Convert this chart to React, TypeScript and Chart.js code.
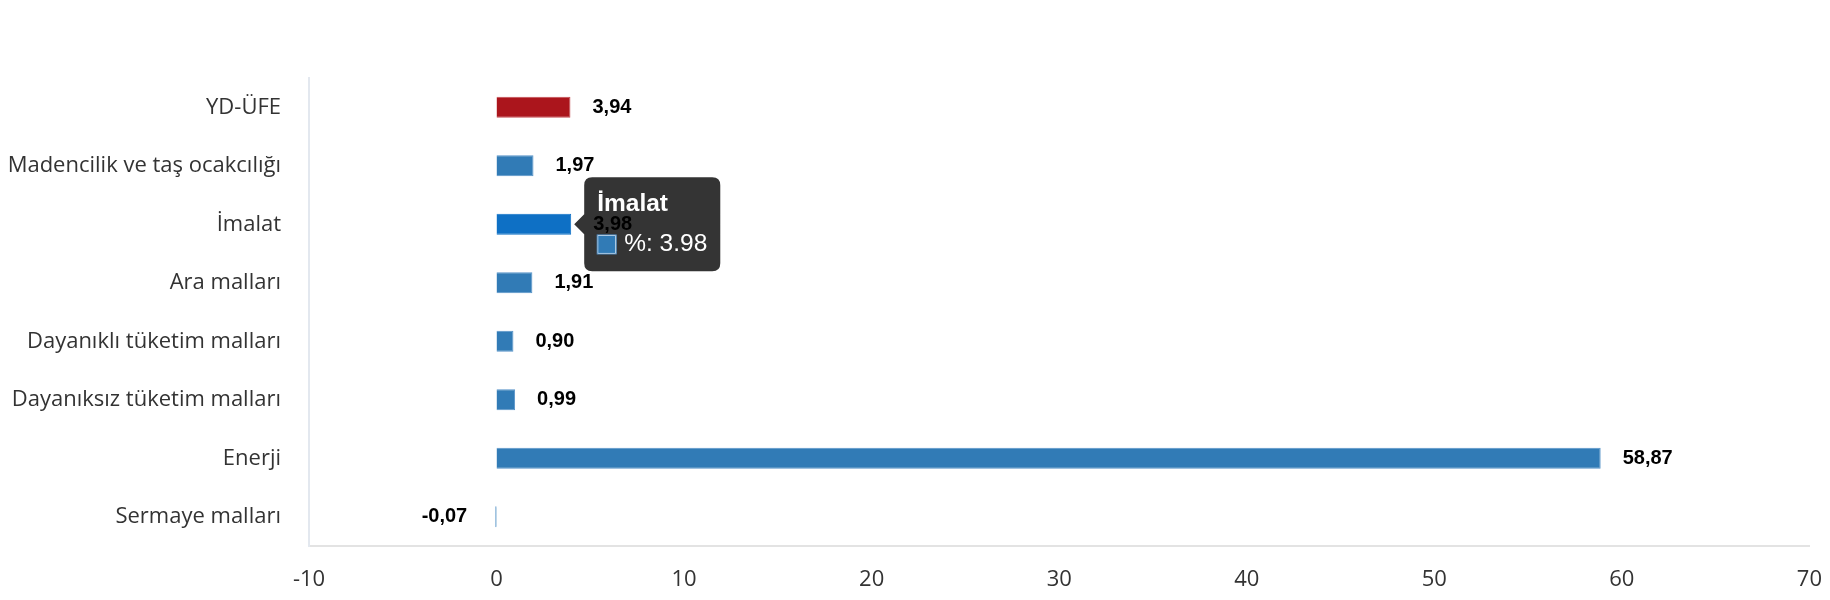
import React, { useEffect, useRef } from 'react';
import { Chart, registerables } from 'chart.js';

Chart.register(...registerables);

const categories = [
	'YD-ÜFE',
	'Madencilik ve taş ocakcılığı',
	'İmalat',
	'Ara malları',
	'Dayanıklı tüketim malları',
	'Dayanıksız tüketim malları',
	'Enerji',
	'Sermaye malları',
];
const values = [3.94, 1.97, 3.98, 1.91, 0.9, 0.99, 58.87, -0.07];
const seriesLabel = '%';
const xMin = -10;
const xMax = 70;
const xStep = 10;
const activeIndex = 2; // bar with the open tooltip

const RED = '#ab151c';
const BLUE = '#317bb6';
const BLUE_HOVER = '#0e70c5';

const barColors = categories.map((_, i) => (i === 0 ? RED : BLUE));
const barBorders = categories.map((_, i) => (i === 0 ? '#c44b50' : '#5592c8'));
const hoverColors = categories.map((_, i) => (i === 0 ? RED : BLUE_HOVER));

const axisFont = { family: '"Open Sans", "Noto Sans", sans-serif', size: 22 };
const tipFont = '"Liberation Sans", Arial, sans-serif';

// value labels are drawn after the tooltip, so they sit on top of it
const valueLabels = {
	id: 'valueLabels',
	afterDraw(chart: Chart) {
		const ctx = chart.ctx;
		const meta = chart.getDatasetMeta(0);
		ctx.save();
		ctx.font = 'bold 20px "Liberation Sans", Arial, sans-serif';
		ctx.fillStyle = '#000';
		ctx.textBaseline = 'middle';
		meta.data.forEach((bar: any, i: number) => {
			const v = values[i];
			const text = v.toFixed(2).replace('.', ',');
			if (v < 0) {
				ctx.textAlign = 'right';
				ctx.fillText(text, bar.x - 28, bar.y);
			} else {
				ctx.textAlign = 'left';
				ctx.fillText(text, bar.x + 22, bar.y);
			}
		});
		ctx.restore();
	},
};

const App: React.FC = () => {
	const canvasRef = useRef<HTMLCanvasElement | null>(null);
	const chartRef = useRef<Chart | null>(null);

	useEffect(() => {
		document.body.style.overflow = 'hidden';
		const canvas = canvasRef.current;
		if (!canvas) return;

		if (chartRef.current) {
			chartRef.current.destroy();
		}

		const chart = new Chart(canvas, {
			type: 'bar',
			data: {
				labels: categories,
				datasets: [
					{
						label: seriesLabel,
						data: values,
						backgroundColor: barColors,
						borderColor: barBorders,
						borderWidth: 1,
						hoverBackgroundColor: hoverColors,
						hoverBorderColor: hoverColors,
						barPercentage: 0.36,
						categoryPercentage: 1,
					},
				],
			},
			options: {
				indexAxis: 'y',
				animation: false,
				responsive: true,
				maintainAspectRatio: false,
				locale: 'en-US',
				events: [],
				layout: { padding: { top: 70, right: 0, bottom: 0, left: 0 } },
				plugins: {
					legend: { display: false },
					tooltip: {
						enabled: true,
						xAlign: 'left',
						yAlign: 'center',
						backgroundColor: 'rgba(30,30,30,0.9)',
						titleColor: '#fff',
						bodyColor: '#fff',
						titleFont: { family: tipFont, size: 24.5, weight: 'bold' },
						bodyFont: { family: tipFont, size: 24.5 },
						padding: { left: 13, right: 13, top: 12, bottom: 12 },
						titleMarginBottom: 11,
						caretSize: 10,
						caretPadding: 3,
						cornerRadius: 8,
						boxWidth: 19,
						boxHeight: 19,
						boxPadding: 6,
					},
				},
				scales: {
					x: {
						type: 'linear',
						min: xMin,
						max: xMax,
						ticks: {
							stepSize: xStep,
							color: '#333',
							font: axisFont,
							padding: 0,
						},
						// tick marks are hidden with the grid; their length only spaces the labels
						grid: { display: false, drawTicks: true, tickLength: 21 },
						border: { display: true, color: '#e3e3e3', width: 2 },
						afterFit: (scale: any) => {
							scale.height = 42;
						},
					},
					y: {
						type: 'category',
						ticks: {
							color: '#333',
							font: axisFont,
							padding: 28,
						},
						grid: { display: false, drawTicks: false },
						border: { display: true, color: '#e3e8ef', width: 2 },
						afterFit: (scale: any) => {
							scale.width = 301;
						},
					},
				},
			},
			plugins: [valueLabels],
		});

		// open the tooltip on the İmalat bar, as in the picture
		const el: any = chart.getDatasetMeta(0).data[activeIndex];
		const active = [{ datasetIndex: 0, index: activeIndex }];
		chart.setActiveElements(active);
		chart.tooltip?.setActiveElements(active, { x: el.x, y: el.y });
		chart.update();

		chartRef.current = chart;

		return () => {
			if (chartRef.current) {
				chartRef.current.destroy();
				chartRef.current = null;
			}
		};
	}, []);

	return (
		<div style={{ width: '100%', height: 580, position: 'relative' }}>
			<canvas ref={canvasRef} />
		</div>
	);
};

export default App;
